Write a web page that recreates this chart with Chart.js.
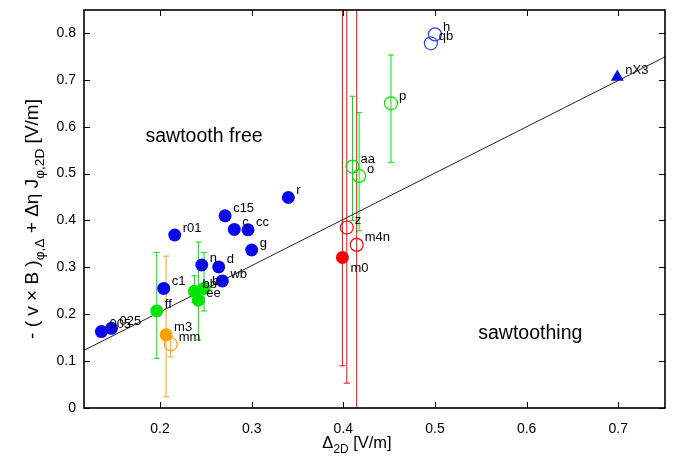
<!DOCTYPE html>
<html><head><meta charset="utf-8">
<script src="https://cdn.jsdelivr.net/npm/chart.js@4.4.0/dist/chart.umd.min.js"></script>
<style>html,body{margin:0;padding:0;background:#fff}#wrap{width:682px;height:457px;position:relative}</style>
</head><body><div id="wrap"><canvas id="c"></canvas></div>
<script>
// ---- axis ticks ----
const xTicks = [0.2, 0.3, 0.4, 0.5, 0.6, 0.7];
const xTickLabels = ['0.2', '0.3', '0.4', '0.5', '0.6', '0.7'];
const yTicks = [0, 0.1, 0.2, 0.3, 0.4, 0.5, 0.6, 0.7, 0.8];
const yTickLabels = ['0', '0.1', '0.2', '0.3', '0.4', '0.5', '0.6', '0.7', '0.8'];

// ---- series ----
const blueFilledNames = ['005', '025', 'c1', 'r01', 'n', 'd', 'wb', 'c15', 'c', 'cc', 'g', 'r'];
const blueFilledX = [0.136, 0.147, 0.204, 0.216, 0.2455, 0.264, 0.268, 0.271, 0.281, 0.296, 0.300, 0.340];
const blueFilledY = [0.163, 0.170, 0.255, 0.369, 0.305, 0.301, 0.271, 0.410, 0.381, 0.380, 0.337, 0.449];

const blueOpenNames = ['h', 'qb'];
const blueOpenX = [0.500, 0.4955];
const blueOpenY = [0.797, 0.778];

const triangleNames = ['nX3'];
const triangleX = [0.699];
const triangleY = [0.706];

const greenFilledNames = ['ff', 'bb', 'b', 'ee'];
const greenFilledX = [0.1964, 0.2375, 0.248, 0.2418];
const greenFilledY = [0.207, 0.249, 0.255, 0.230];
const greenFilledLo = [0.106, 0.225, 0.207, 0.145];
const greenFilledHi = [0.332, 0.282, 0.332, 0.354];

const greenOpenNames = ['p', 'aa', 'o'];
const greenOpenX = [0.452, 0.410, 0.4172];
const greenOpenY = [0.650, 0.515, 0.495];
const greenOpenLo = [0.524, 0.400, 0.378];
const greenOpenHi = [0.753, 0.665, 0.630];

const orangeFilledNames = ['m3'];
const orangeFilledX = [0.2066];
const orangeFilledY = [0.156];
const orangeFilledLo = [0.024];
const orangeFilledHi = [0.324];

const orangeOpenNames = ['mm'];
const orangeOpenX = [0.2117];
const orangeOpenY = [0.136];
const orangeOpenLo = [0.109];
const orangeOpenHi = [0.153];

const redFilledNames = ['m0'];
const redFilledX = [0.399];
const redFilledY = [0.321];
const redFilledLo = [0.090];
const redFilledHi = [1.20];

const redOpenNames = ['z', 'm4n'];
const redOpenX = [0.4038, 0.4146];
const redOpenY = [0.385, 0.348];
const redOpenLo = [0.053, -0.20];
const redOpenHi = [1.20, 1.20];

const fitX = [0.117, 0.751];
const fitY = [0.123, 0.749];

const labelsBelow = ['m0'];

// ---- build datasets ----
const BLUE = '#0a0ae8', GREEN = '#00e600', ORANGE = '#ffa000', RED = '#ff0000';
function pts(xs, ys) { return xs.map((v, i) => ({ x: v, y: ys[i] })); }
function mk(names, xs, ys, color, filled, lo, hi, style) {
  return {
    data: pts(xs, ys), names: names, lo: lo || null, hi: hi || null, barColor: color,
    pointStyle: style || 'circle', pointRadius: style === 'triangle' ? 7.5 : 6.5,
    pointHoverRadius: 6.5,
    backgroundColor: filled ? color : 'rgba(0,0,0,0)',
    borderColor: color, borderWidth: filled ? 0 : 1.2, showLine: false, order: 1
  };
}
const datasets = [
  mk(blueFilledNames, blueFilledX, blueFilledY, BLUE, true),
  mk(blueOpenNames, blueOpenX, blueOpenY, '#3040ff', false),
  mk(triangleNames, triangleX, triangleY, BLUE, true, null, null, 'triangle'),
  mk(greenFilledNames, greenFilledX, greenFilledY, GREEN, true, greenFilledLo, greenFilledHi),
  mk(greenOpenNames, greenOpenX, greenOpenY, GREEN, false, greenOpenLo, greenOpenHi),
  mk(orangeFilledNames, orangeFilledX, orangeFilledY, ORANGE, true, orangeFilledLo, orangeFilledHi),
  mk(orangeOpenNames, orangeOpenX, orangeOpenY, ORANGE, false, orangeOpenLo, orangeOpenHi),
  mk(redFilledNames, redFilledX, redFilledY, RED, true, redFilledLo, redFilledHi),
  mk(redOpenNames, redOpenX, redOpenY, RED, false, redOpenLo, redOpenHi),
  { type: 'line', data: pts(fitX, fitY), borderColor: '#222', borderWidth: 1, pointRadius: 0, fill: false, order: 5 }
];

const FONT = '"Liberation Sans", Arial, sans-serif';

function measureRich(ctx, parts, size) {
  let w = 0;
  parts.forEach(p => {
    ctx.font = (p[1] ? size * 0.72 : size) + 'px ' + FONT;
    w += ctx.measureText(p[0]).width;
  });
  return w;
}
function paintRich(ctx, parts, size, x0, y0) {
  let x = x0;
  parts.forEach(p => {
    ctx.font = (p[1] ? size * 0.72 : size) + 'px ' + FONT;
    ctx.fillText(p[0], x, y0 + (p[1] ? size * 0.3 : 0));
    x += ctx.measureText(p[0]).width;
  });
}

const deco = {
  id: 'deco',
  beforeDatasetsDraw(chart) {
    const { ctx, chartArea: a, scales: { x, y } } = chart;
    ctx.save();
    ctx.beginPath(); ctx.rect(a.left, a.top, a.right - a.left, a.bottom - a.top); ctx.clip();
    chart.data.datasets.forEach(ds => {
      if (!ds.lo) return;
      ctx.strokeStyle = ds.barColor; ctx.lineWidth = 1;
      ds.data.forEach((p, i) => {
        const px = x.getPixelForValue(p.x);
        const pl = y.getPixelForValue(ds.lo[i]), ph = y.getPixelForValue(ds.hi[i]);
        ctx.beginPath();
        ctx.moveTo(px, pl); ctx.lineTo(px, ph);
        ctx.moveTo(px - 3, pl); ctx.lineTo(px + 3, pl);
        ctx.moveTo(px - 3, ph); ctx.lineTo(px + 3, ph);
        ctx.stroke();
      });
    });
    ctx.restore();
  },
  afterDatasetsDraw(chart) {
    const { ctx, scales: { x, y } } = chart;
    ctx.save();
    ctx.fillStyle = '#000';
    ctx.font = '13px ' + FONT;
    ctx.textAlign = 'left'; ctx.textBaseline = 'middle';
    chart.data.datasets.forEach(ds => {
      if (!ds.names) return;
      ds.data.forEach((p, i) => {
        const px = x.getPixelForValue(p.x), py = y.getPixelForValue(p.y);
        const below = labelsBelow.includes(ds.names[i]);
        ctx.fillText(ds.names[i], px + 8, py + (below ? 11 : -7));
      });
    });
    // region annotations
    ctx.font = '19.5px ' + FONT;
    ctx.textAlign = 'center';
    ctx.fillText('sawtooth free', x.getPixelForValue(0.248), y.getPixelForValue(0.579));
    ctx.fillText('sawtoothing', x.getPixelForValue(0.604), y.getPixelForValue(0.158));
    ctx.restore();
  },
  afterDraw(chart) {
    const { ctx, chartArea: a, scales: { x, y } } = chart;
    ctx.save();
    ctx.strokeStyle = '#000'; ctx.lineWidth = 1.6;
    ctx.strokeRect(a.left, a.top, a.right - a.left, a.bottom - a.top);
    ctx.lineWidth = 1;
    ctx.beginPath();
    xTicks.forEach(v => {
      const px = Math.round(x.getPixelForValue(v)) + 0.5;
      ctx.moveTo(px, a.bottom); ctx.lineTo(px, a.bottom - 6);
      ctx.moveTo(px, a.top); ctx.lineTo(px, a.top + 6);
    });
    yTicks.forEach(v => {
      const py = Math.round(y.getPixelForValue(v)) + 0.5;
      ctx.moveTo(a.left, py); ctx.lineTo(a.left + 6, py);
      ctx.moveTo(a.right, py); ctx.lineTo(a.right - 6, py);
    });
    ctx.stroke();
    // axis titles
    ctx.fillStyle = '#000'; ctx.textAlign = 'left'; ctx.textBaseline = 'alphabetic';
    const xt = [['\u0394', false], ['2D', true], [' [V/m]', false]];
    const wx = measureRich(ctx, xt, 16.5);
    paintRich(ctx, xt, 16.5, 357 - wx / 2, 448);
    const yt = [['- ( v \u00d7 B )', false], ['\u03c6,\u0394', true], [' + \u0394\u03b7 J', false], ['\u03c6,2D', true], [' [V/m]', false]];
    const sy = 19;
    const wy = measureRich(ctx, yt, sy);
    ctx.translate(38, 219);
    ctx.rotate(-Math.PI / 2);
    paintRich(ctx, yt, sy, -wy / 2, 0);
    ctx.restore();
  }
};

new Chart(document.getElementById('c'), {
  type: 'scatter',
  data: { datasets: datasets },
  options: {
    responsive: true, maintainAspectRatio: false, animation: false,
    layout: { padding: { top: 10, right: 17, left: 0, bottom: 0 } },
    plugins: { legend: { display: false }, tooltip: { enabled: false } },
    scales: {
      x: {
        type: 'linear', min: 0.117, max: 0.751,
        grid: { display: false, drawTicks: false }, border: { display: false },
        afterBuildTicks: s => { s.ticks = xTicks.map(v => ({ value: v })); },
        afterFit: s => { s.height = 49; s.paddingLeft = 0; s.paddingRight = 0; },
        ticks: { padding: 13, color: '#000', font: { family: FONT, size: 14 },
          callback: (v, i) => xTickLabels[i] }
      },
      y: {
        type: 'linear', min: 0, max: 0.849,
        grid: { display: false, drawTicks: false }, border: { display: false },
        afterBuildTicks: s => { s.ticks = yTicks.map(v => ({ value: v })); },
        afterFit: s => { s.width = 84; s.paddingTop = 0; s.paddingBottom = 0; },
        ticks: { padding: 8, color: '#000', font: { family: FONT, size: 14 },
          callback: (v, i) => yTickLabels[i] }
      }
    }
  },
  plugins: [deco]
});
</script></body></html>
